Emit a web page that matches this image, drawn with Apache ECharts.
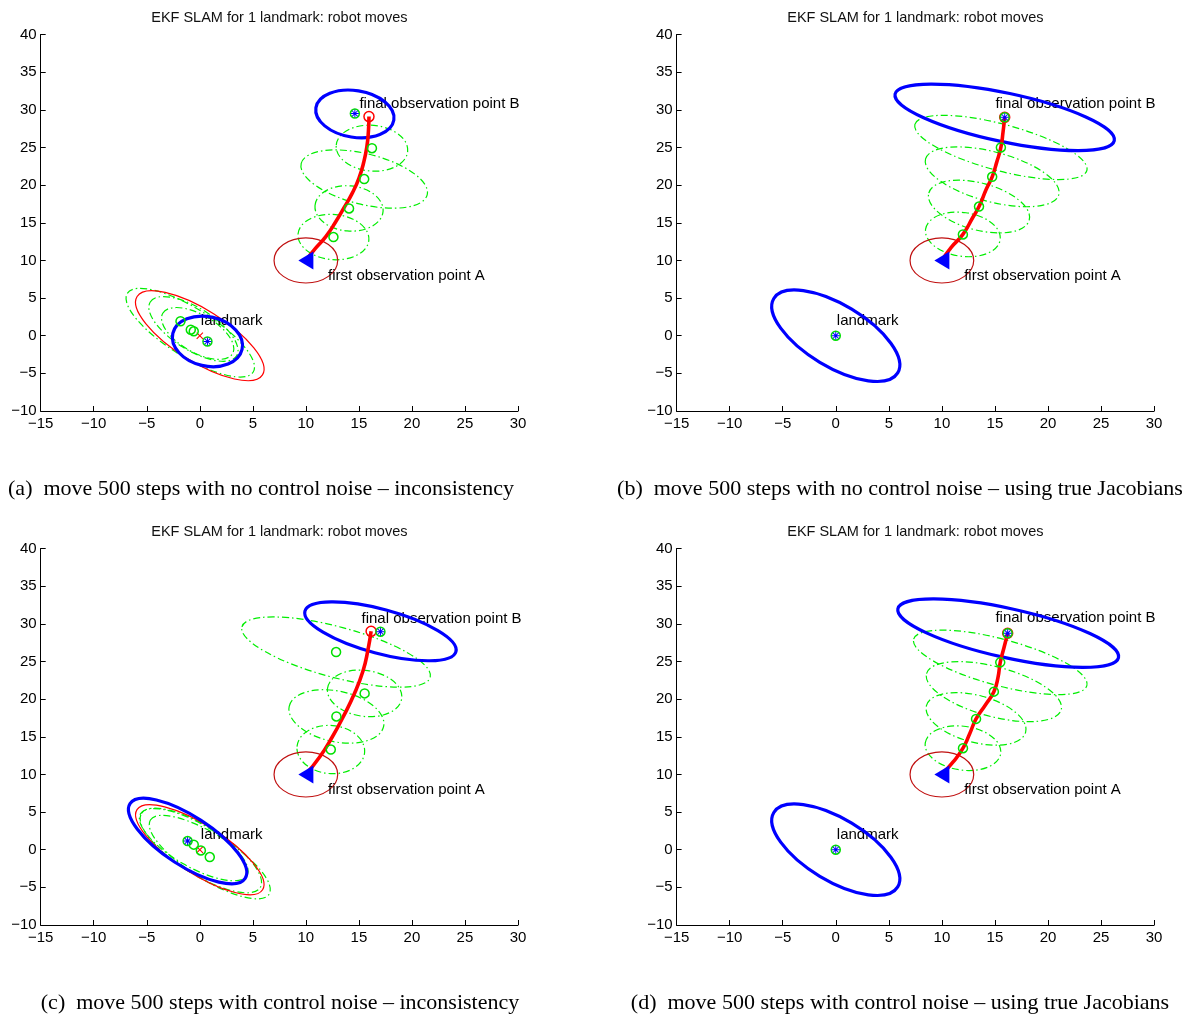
<!DOCTYPE html>
<html><head><meta charset="utf-8">
<script src="https://cdn.jsdelivr.net/npm/echarts@6/dist/echarts.min.js"></script>
<style>html,body{margin:0;padding:0;background:#fff}#c{width:1185px;height:1015px}</style>
</head><body><div id="c"></div>
<script>
// ---------- tick labels ----------
const xTickLabels = ['\u221215','\u221210','\u22125','0','5','10','15','20','25','30'];
const yTickLabels = ['\u221210','\u22125','0','5','10','15','20','25','30','35','40'];
const panelTitle = 'EKF SLAM for 1 landmark: robot moves';
const captions = [
  '(a)  move 500 steps with no control noise \u2013 inconsistency',
  '(b)  move 500 steps with no control noise \u2013 using true Jacobians',
  '(c)  move 500 steps with control noise \u2013 inconsistency',
  '(d)  move 500 steps with control noise \u2013 using true Jacobians'
];
const labelTexts = ['final observation point B', 'first observation point A', 'landmark'];

// ---------- common ----------
const startPose = [[10, 10]];
const startCov = [[10, 10, 3, 3, 0]];           // [cx, cy, semi-axis x, semi-axis y, angle deg]

// ---------- panel (a) ----------
const a_traj = [[10,10],[10.9,11.6],[11.9,13.2],[12.8,15.1],[13.6,17.0],[14.4,19.0],[15.0,20.9],[15.45,23.0],[15.75,25.1],[15.9,27.2],[15.95,29.1]];
const a_poseEst = [[12.6,13.1],[14.07,16.9],[15.5,20.8],[16.23,24.9]];
const a_lmEst = [[-1.82,1.92],[-0.85,0.8],[-0.57,0.58]];
const a_finalEst = [[14.62,29.5],[0.72,-0.76]];
const a_trueEnd = [[15.95,29.1]];
const a_trueLm = [[0,0]];
const a_blue = [[14.62,29.45,3.72,3.1,-9],[0.72,-0.76,3.35,3.27,-13]];
const a_red = [[0,0,6.97,3.45,-32]];
const a_green = [[12.6,13.1,3.35,3.0,-5],[14.07,16.9,3.22,3.0,-5],[15.5,20.8,6.12,3.36,-14],[16.23,24.9,3.38,3.04,-5],
                 [-0.9,0.4,7.0,3.2,-32],[-0.6,0.9,4.8,2.8,-32],[-0.2,0.3,3.8,2.5,-30]];
const a_labelPos = [[15.0,30.8],[12.05,7.95],[0.05,2.0]];

// ---------- panel (b) ----------
const b_traj = [[10,10],[10.88,11.74],[11.98,13.45],[12.91,15.7],[13.5,17.15],[14.18,19.45],[14.74,21.1],[15.17,23.05],[15.56,25.0],[15.76,27.0],[15.92,29.0]];
const b_poseEst = [[11.98,13.45],[13.5,17.15],[14.74,21.1],[15.56,25.0]];
const b_lmEst = [];
const b_finalEst = [[15.92,29.0],[0,0]];
const b_trueEnd = [[15.92,29.0]];
const b_trueLm = [];
const b_blue = [[15.92,29.0,10.56,3.23,-12],[0,0,6.81,4.12,-31]];
const b_red = [];
const b_green = [[11.98,13.45,3.55,2.91,-8],[13.5,17.15,4.9,3.12,-15],[14.74,21.1,6.5,3.3,-15],[15.56,25.0,8.39,3.08,-15]];
const b_labelPos = [[15.0,30.8],[12.05,7.95],[0.05,2.0]];

// ---------- panel (c) ----------
const c_traj = [[10,10],[11.3,12.3],[12.5,15.0],[13.5,17.6],[14.6,20.8],[15.4,23.8],[15.85,26.5],[16.15,29.0]];
const c_poseEst = [[12.35,13.3],[12.88,17.7],[15.54,20.76],[12.85,26.25]];
const c_lmEst = [[-0.57,0.67],[0.1,-0.1],[0.94,-0.98]];
const c_finalEst = [[17.03,28.95],[-1.15,1.15]];
const c_trueEnd = [[16.15,29.0]];
const c_trueLm = [[0,0]];
const c_blue = [[17.03,29.0,7.37,2.94,-15],[-1.15,1.15,6.47,3.28,-33]];
const c_red = [[0,0,7.02,3.24,-32.5]];
const c_green = [[12.35,13.3,3.2,3.19,-5],[12.88,17.7,4.55,3.36,-12],[15.54,20.76,3.53,3.05,-8],[12.85,26.25,9.19,3.36,-15],
                 [-0.57,0.67,5.8,2.9,-30],[0.1,-0.1,6.6,3.2,-32],[0.94,-0.98,6.6,3.0,-32]];
const c_labelPos = [[15.2,30.7],[12.05,7.95],[0.05,2.0]];

// ---------- panel (d) ----------
const d_traj = [[10,10],[11.04,11.62],[11.99,13.48],[12.62,15.4],[13.22,17.37],[14.1,19.22],[14.9,20.99],[15.29,22.89],[15.5,24.88],[15.85,26.82],[16.2,28.75]];
const d_poseEst = [[11.99,13.48],[13.22,17.37],[14.9,20.99],[15.5,24.88]];
const d_lmEst = [];
const d_finalEst = [[16.2,28.75],[0,0]];
const d_trueEnd = [[16.2,28.75]];
const d_trueLm = [];
const d_blue = [[16.25,28.75,10.65,3.26,-12.5],[0,0,6.81,4.12,-31]];
const d_red = [];
const d_green = [[11.99,13.48,3.59,2.91,-8],[13.22,17.37,4.84,3.12,-15],[14.9,20.99,6.57,3.3,-15],[15.5,24.88,8.45,3.08,-15]];
const d_labelPos = [[15.0,30.8],[12.05,7.95],[0.05,2.0]];

// ---------- build ----------
const panels = [
  {traj:a_traj, poseEst:a_poseEst, lmEst:a_lmEst, finalEst:a_finalEst, trueEnd:a_trueEnd, trueLm:a_trueLm, blue:a_blue, red:a_red, green:a_green, labelPos:a_labelPos},
  {traj:b_traj, poseEst:b_poseEst, lmEst:b_lmEst, finalEst:b_finalEst, trueEnd:b_trueEnd, trueLm:b_trueLm, blue:b_blue, red:b_red, green:b_green, labelPos:b_labelPos},
  {traj:c_traj, poseEst:c_poseEst, lmEst:c_lmEst, finalEst:c_finalEst, trueEnd:c_trueEnd, trueLm:c_trueLm, blue:c_blue, red:c_red, green:c_green, labelPos:c_labelPos},
  {traj:d_traj, poseEst:d_poseEst, lmEst:d_lmEst, finalEst:d_finalEst, trueEnd:d_trueEnd, trueLm:d_trueLm, blue:d_blue, red:d_red, green:d_green, labelPos:d_labelPos}
];

const FONT = '"Liberation Sans", Arial, Helvetica, sans-serif';
const gridRects = [
  {left: 40.7, top: 34.5, width: 477.3, height: 376.5},
  {left: 676.6, top: 34.5, width: 477.5, height: 376.5},
  {left: 40.7, top: 548.5, width: 477.3, height: 376.5},
  {left: 676.6, top: 548.5, width: 477.5, height: 376.5}
];

const ASTERISK = 'path://M-0.6,-5L0.6,-5L0.6,5L-0.6,5Z M-5,-0.6L5,-0.6L5,0.6L-5,0.6Z M-3.12,-3.96L3.96,3.12L3.12,3.96L-3.96,-3.12Z M3.12,-3.96L3.96,-3.12L-3.12,3.96L-3.96,3.12Z';
const XMARK = 'path://M-3.96,-3.12L-3.12,-3.96L3.96,3.12L3.12,3.96Z M3.12,-3.96L3.96,-3.12L-3.12,3.96L-3.96,3.12Z';

function ellipseSeries(i, data, style, z) {
  return {
    type: 'custom', xAxisIndex: i, yAxisIndex: i, z: z, silent: true, clip: false,
    dimensions: ['cx', 'cy', 'a', 'b', 'deg'],
    encode: {x: 0, y: 1},
    data: data,
    renderItem: function (params, api) {
      const c = api.coord([api.value(0), api.value(1)]);
      const rx = Math.abs(api.size([api.value(2), 0])[0]);
      const ry = Math.abs(api.size([0, api.value(3)])[1]);
      return {
        type: 'ellipse', x: c[0], y: c[1], rotation: api.value(4) * Math.PI / 180,
        shape: {cx: 0, cy: 0, rx: rx, ry: ry},
        style: Object.assign({fill: 'none'}, style)
      };
    }
  };
}

const grids = [], xAxes = [], yAxes = [], series = [], graphics = [];
panels.forEach(function (p, i) {
  grids.push(Object.assign({containLabel: false}, gridRects[i]));
  xAxes.push({
    type: 'value', gridIndex: i, min: -15, max: 30, interval: 5,
    axisLine: {show: true, onZero: false, lineStyle: {color: '#000', width: 1}},
    axisTick: {show: true, inside: true, length: 5, lineStyle: {color: '#000', width: 1}},
    splitLine: {show: false},
    axisLabel: {color: '#000', fontSize: 15, fontFamily: FONT, margin: 5,
      formatter: function (v) { return xTickLabels[Math.round((v + 15) / 5)]; }}
  });
  yAxes.push({
    type: 'value', gridIndex: i, min: -10, max: 40, interval: 5,
    axisLine: {show: true, onZero: false, lineStyle: {color: '#000', width: 1}},
    axisTick: {show: true, inside: true, length: 5, lineStyle: {color: '#000', width: 1}},
    splitLine: {show: false},
    axisLabel: {color: '#000', fontSize: 15, fontFamily: FONT, margin: 4,
      formatter: function (v) { return yTickLabels[Math.round((v + 10) / 5)]; }}
  });

  // ellipses
  series.push(ellipseSeries(i, p.green, {stroke: '#00ee00', lineWidth: 1.2, lineDash: [7, 3, 1.5, 3]}, 2));
  series.push(ellipseSeries(i, p.red, {stroke: '#ff0000', lineWidth: 1.2}, 3));
  series.push(ellipseSeries(i, startCov, {stroke: '#c01010', lineWidth: 1.2}, 3));

  // text labels
  series.push({
    type: 'scatter', xAxisIndex: i, yAxisIndex: i, z: 4, silent: true,
    symbolSize: 1, itemStyle: {color: 'rgba(0,0,0,0)', opacity: 1},
    data: p.labelPos.map(function (pos, k) { return {name: labelTexts[k], value: pos}; }),
    label: {show: true, position: 'right', distance: 0, formatter: '{b}',
      color: '#000', fontSize: 15, fontFamily: FONT}
  });

  series.push(ellipseSeries(i, p.blue, {stroke: '#0000ff', lineWidth: 3.2}, 6));

  // trajectory
  series.push({
    type: 'line', xAxisIndex: i, yAxisIndex: i, z: 7, silent: true,
    data: p.traj, showSymbol: false, smooth: 0.5,
    lineStyle: {color: '#ff0000', width: 3.6}
  });

  // start pose triangle
  series.push({
    type: 'scatter', xAxisIndex: i, yAxisIndex: i, z: 8, silent: true,
    data: startPose, symbol: 'triangle', symbolRotate: 90, symbolSize: [18, 15],
    itemStyle: {color: '#0000ff', opacity: 1}
  });

  // true end pose (red circle), true landmark (red x)
  series.push({
    type: 'scatter', xAxisIndex: i, yAxisIndex: i, z: 8, silent: true,
    data: p.trueEnd, symbol: 'circle', symbolSize: 10,
    itemStyle: {color: 'rgba(0,0,0,0)', borderColor: '#ff0000', borderWidth: 1.5, opacity: 1}
  });
  series.push({
    type: 'scatter', xAxisIndex: i, yAxisIndex: i, z: 8, silent: true,
    data: p.trueLm, symbol: XMARK, symbolSize: 7,
    itemStyle: {color: '#ff0000', opacity: 1}
  });

  // green estimate circles
  series.push({
    type: 'scatter', xAxisIndex: i, yAxisIndex: i, z: 9, silent: true,
    data: p.poseEst.concat(p.lmEst).concat(p.finalEst), symbol: 'circle', symbolSize: 9,
    itemStyle: {color: 'rgba(0,0,0,0)', borderColor: '#00e000', borderWidth: 1.5, opacity: 1}
  });

  // blue asterisks
  series.push({
    type: 'scatter', xAxisIndex: i, yAxisIndex: i, z: 10, silent: true,
    data: p.finalEst, symbol: ASTERISK, symbolSize: 8,
    itemStyle: {color: '#0000ff', opacity: 1}
  });

  const r = gridRects[i];
  graphics.push({
    type: 'text', x: r.left + r.width / 2, y: r.top - 16.5, silent: true,
    style: {text: panelTitle, textAlign: 'center', textVerticalAlign: 'middle',
      font: '14.5px ' + FONT, fill: '#111'}
  });
});

// captions
const capPos = [[261, 489], [900, 489], [280, 1003], [900, 1003]];
captions.forEach(function (t, k) {
  graphics.push({
    type: 'text', x: capPos[k][0], y: capPos[k][1], silent: true,
    style: {text: t, textAlign: 'center', textVerticalAlign: 'middle',
      font: '22px "Liberation Serif", "Times New Roman", serif', fill: '#000'}
  });
});

const chart = echarts.init(document.getElementById('c'), null, {renderer: 'canvas'});
chart.setOption({
  animation: false,
  backgroundColor: '#fff',
  grid: grids, xAxis: xAxes, yAxis: yAxes,
  series: series,
  graphic: graphics
});
</script></body></html>
